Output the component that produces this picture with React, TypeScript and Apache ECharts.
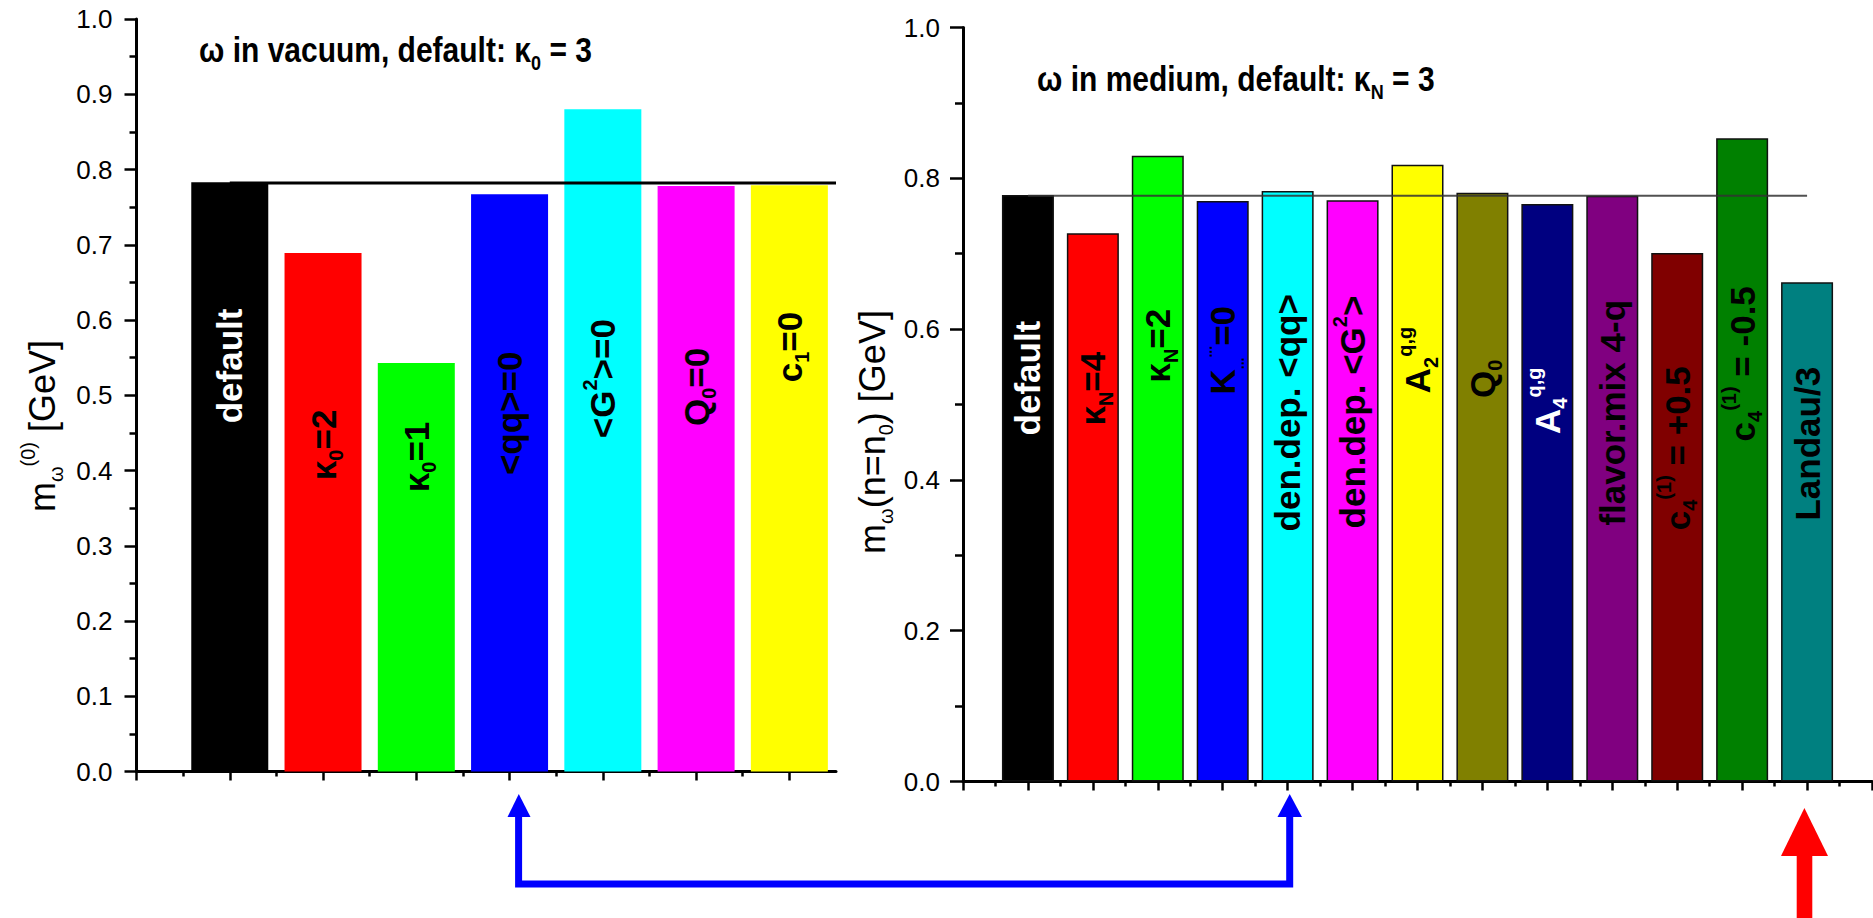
import React, { useEffect, useRef } from "react";
import * as echarts from "echarts";

// ---------- data: omega in vacuum ----------
const vacuumX = [1, 2, 3, 4, 5, 6, 7];
const vacuumValues = [0.783, 0.689, 0.543, 0.767, 0.88, 0.778, 0.779];
const vacuumLabels = [
  "default",
  "κ{sub|0}=2",
  "κ{sub|0}=1",
  "<qq>=0",
  "<G{sup|2}>=0",
  "Q{sub|0}=0",
  "c{sub|1}=0",
];
const vacuumLabelAt = [0.539, 0.434, 0.418, 0.476, 0.522, 0.511, 0.564];
const vacuumColors = ["#000000", "#ff0000", "#00ff00", "#0000ff", "#00ffff", "#ff00ff", "#ffff00"];
const vacuumTextColors = ["#ffffff", "#000000", "#000000", "#000000", "#000000", "#000000", "#000000"];
const vacuumDefault = 0.782;
const vacuumLineX = [1, 7.5];
const vacuumMajorTicks = [0, 1, 2, 3, 4, 5, 6, 7];
const vacuumMinorTicks = [0.5, 1.5, 2.5, 3.5, 4.5, 5.5, 6.5];

// ---------- data: omega in medium ----------
const mediumX = [1, 2, 3, 4, 5, 6, 7, 8, 9, 10, 11, 12, 13];
const mediumValues = [0.778, 0.727, 0.83, 0.77, 0.783, 0.771, 0.818, 0.781, 0.766, 0.777, 0.701, 0.853, 0.662];
const mediumLabels = [
  "default",
  "κ{sub|N}=4",
  "κ{sub|N}=2",
  "K{tiny|...}{tinyup|...}=0",
  "den.dep. <qq>",
  "den.dep. <G{sup|2}>",
  "A{sub|2}{sup|q,g}",
  "Q{sub|0}",
  "A{sub|4}{sup|q,g}",
  "flavor.mix 4-q",
  "c{sub|4}{sup|(1)} = +0.5",
  "c{sub|4}{sup|(1)} = -0.5",
  "Landau/3",
];
const mediumLabelAt = [0.535, 0.521, 0.578, 0.572, 0.489, 0.49, 0.559, 0.534, 0.505, 0.489, 0.442, 0.554, 0.448];
const mediumColors = [
  "#000000", "#ff0000", "#00ff00", "#0000ff", "#00ffff", "#ff00ff", "#ffff00",
  "#808000", "#000080", "#800080", "#800000", "#008000", "#008080",
];
const mediumTextColors = [
  "#ffffff", "#000000", "#000000", "#000000", "#000000", "#000000", "#000000",
  "#000000", "#ffffff", "#000000", "#000000", "#000000", "#000000",
];
const mediumDefault = 0.777;
const mediumLineX = [1, 13];
const mediumMajorTicks = [0, 1, 2, 3, 4, 5, 6, 7, 8, 9, 10, 11, 12, 13, 14];
const mediumMinorTicks = [0.5, 1.5, 2.5, 3.5, 4.5, 5.5, 6.5, 7.5, 8.5, 9.5, 10.5, 11.5, 12.5, 13.5];

const FONT = "'Liberation Sans', Arial, Helvetica, sans-serif";

const barRich = {
  sub: { fontSize: 20, fontWeight: "bold", fontFamily: FONT, lineHeight: 20, verticalAlign: "bottom" },
  sup: { fontSize: 20, fontWeight: "bold", fontFamily: FONT, lineHeight: 20, verticalAlign: "top" },
  tiny: { fontSize: 14, fontWeight: "bold", fontFamily: FONT, lineHeight: 14, verticalAlign: "bottom" },
  tinyup: { fontSize: 14, fontWeight: "bold", fontFamily: FONT, lineHeight: 14, verticalAlign: "top" },
};

function xAxes(gridIndex: number, max: number, major: number[], minor: number[]) {
  const base = {
    gridIndex,
    type: "value",
    position: "bottom",
    min: 0,
    max,
    axisLabel: { show: false },
    splitLine: { show: false },
  };
  return [
    {
      ...base,
      axisLine: { show: true, onZero: false, lineStyle: { color: "#000", width: 3 } },
      axisTick: { show: true, inside: false, length: 9, customValues: major, lineStyle: { color: "#000", width: 2.5 } },
    },
    {
      ...base,
      axisLine: { show: false, onZero: false },
      axisTick: { show: true, inside: false, length: 5, customValues: minor, lineStyle: { color: "#000", width: 2.5 } },
    },
  ];
}

function yAxis(gridIndex: number, interval: number, majorLen: number, minorLen: number, margin: number) {
  return {
    gridIndex,
    type: "value",
    min: 0,
    max: 1,
    interval,
    axisLine: { show: true, lineStyle: { color: "#000", width: 3 } },
    axisTick: { show: true, inside: false, length: majorLen, lineStyle: { color: "#000", width: 2.5 } },
    minorTick: { show: true, splitNumber: 2, length: minorLen, lineStyle: { color: "#000", width: 2.5 } },
    splitLine: { show: false },
    minorSplitLine: { show: false },
    axisLabel: {
      show: true,
      margin,
      fontSize: 26,
      fontFamily: FONT,
      color: "#000",
      formatter: (v: number) => v.toFixed(1),
    },
  };
}

function labelSeries(xIdx: number, yIdx: number, xs: number[], ys: number[], texts: string[], colors: string[]) {
  return {
    type: "scatter",
    xAxisIndex: xIdx,
    yAxisIndex: yIdx,
    symbolSize: 1,
    silent: true,
    z: 5,
    itemStyle: { color: "rgba(255,255,255,0)", opacity: 1 },
    data: xs.map((x, i) => ({
      value: [x, ys[i]],
      label: { color: colors[i] },
    })),
    label: {
      show: true,
      position: "inside",
      rotate: 90,
      opacity: 1,
      fontSize: 35,
      fontWeight: "bold",
      fontFamily: FONT,
      lineHeight: 46,
      textBorderWidth: 0,
      formatter: (p: any) => texts[p.dataIndex],
      rich: barRich,
    },
  };
}

function titleText(x: number, y: number, text: string) {
  return {
    type: "text",
    x,
    y,
    scaleY: 1.15,
    style: {
      text,
      fontSize: 30,
      fontWeight: "bold",
      fontFamily: FONT,
      fill: "#000",
      verticalAlign: "middle",
      align: "left",
      lineHeight: 40,
      rich: { s: { fontSize: 18, fontWeight: "bold", fontFamily: FONT, lineHeight: 18, verticalAlign: "bottom" } },
    },
  };
}

export default function App() {
  const ref = useRef<HTMLDivElement>(null);

  useEffect(() => {
    if (!ref.current) return;
    const chart = echarts.init(ref.current, undefined, { renderer: "svg" });

    const option: any = {
      animation: false,
      backgroundColor: "#ffffff",
      grid: [
        { left: 136.5, top: 19, width: 699.5, height: 752.5 },
        { left: 963, top: 27.5, width: 909, height: 754 },
      ],
      xAxis: [
        ...xAxes(0, 7.5, vacuumMajorTicks, vacuumMinorTicks),
        ...xAxes(1, 14, mediumMajorTicks, mediumMinorTicks),
      ],
      yAxis: [yAxis(0, 0.1, 12, 7, 24), yAxis(1, 0.2, 13, 8, 23)],
      series: [
        {
          type: "bar",
          xAxisIndex: 0,
          yAxisIndex: 0,
          barWidth: 77,
          data: vacuumX.map((x, i) => ({ value: [x, vacuumValues[i]], itemStyle: { color: vacuumColors[i] } })),
        },
        {
          type: "line",
          xAxisIndex: 0,
          yAxisIndex: 0,
          symbol: "none",
          z: 4,
          lineStyle: { color: "#000", width: 3 },
          data: vacuumLineX.map((x) => [x, vacuumDefault]),
        },
        labelSeries(0, 0, vacuumX, vacuumLabelAt, vacuumLabels, vacuumTextColors),
        {
          type: "bar",
          xAxisIndex: 2,
          yAxisIndex: 1,
          barWidth: 52,
          data: mediumX.map((x, i) => ({
            value: [x, mediumValues[i]],
            itemStyle: { color: mediumColors[i], borderColor: "#111", borderWidth: 1.5 },
          })),
        },
        {
          type: "line",
          xAxisIndex: 2,
          yAxisIndex: 1,
          symbol: "none",
          z: 4,
          lineStyle: { color: "#333", width: 2, opacity: 0.85 },
          data: mediumLineX.map((x) => [x, mediumDefault]),
        },
        labelSeries(2, 1, mediumX, mediumLabelAt, mediumLabels, mediumTextColors),
      ],
      graphic: [
        titleText(199, 50, "ω in vacuum, default: κ{s|0} = 3"),
        titleText(1037, 79, "ω in medium, default: κ{s|N} = 3"),
        {
          type: "text",
          x: 42,
          y: 426,
          rotation: Math.PI / 2,
          style: {
            text: "m{sub|ω}{sup|(0)} [GeV]",
            fontSize: 36,
            fontFamily: FONT,
            fill: "#000",
            align: "center",
            verticalAlign: "middle",
            lineHeight: 48,
            rich: {
              sub: { fontSize: 20, fontFamily: FONT, lineHeight: 20, verticalAlign: "bottom" },
              sup: { fontSize: 20, fontFamily: FONT, lineHeight: 20, verticalAlign: "top" },
            },
          },
        },
        {
          type: "text",
          x: 872,
          y: 432,
          rotation: Math.PI / 2,
          style: {
            text: "m{sub|ω}(n=n{sub|0}) [GeV]",
            fontSize: 36,
            fontFamily: FONT,
            fill: "#000",
            align: "center",
            verticalAlign: "middle",
            lineHeight: 48,
            rich: {
              sub: { fontSize: 20, fontFamily: FONT, lineHeight: 20, verticalAlign: "bottom" },
            },
          },
        },
        // blue connector arrow
        {
          type: "polyline",
          shape: { points: [[518.6, 812], [518.6, 884], [1289.7, 884], [1289.7, 812]] },
          style: { stroke: "#0000ff", lineWidth: 7, fill: null },
        },
        {
          type: "polygon",
          shape: { points: [[507.5, 817], [530.5, 817], [518.8, 794]] },
          style: { fill: "#0000ff" },
        },
        {
          type: "polygon",
          shape: { points: [[1277.5, 817], [1302, 817], [1289.7, 794]] },
          style: { fill: "#0000ff" },
        },
        // red arrow
        {
          type: "rect",
          shape: { x: 1796.7, y: 850, width: 15.6, height: 70 },
          style: { fill: "#ff0000" },
        },
        {
          type: "polygon",
          shape: { points: [[1781, 856], [1828, 856], [1804.4, 808]] },
          style: { fill: "#ff0000" },
        },
      ],
    };

    chart.setOption(option);
    return () => chart.dispose();
  }, []);

  return (
    <div
      ref={ref}
      style={{ position: "absolute", left: 0, top: 0, width: 1873, height: 918, background: "#fff" }}
    />
  );
}
